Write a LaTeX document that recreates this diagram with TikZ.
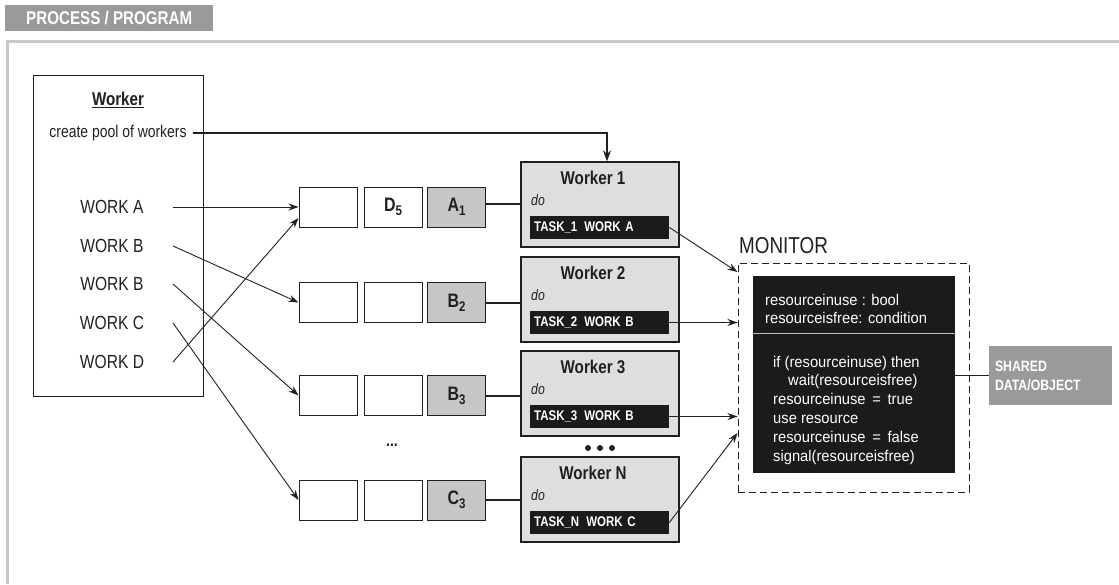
\documentclass[tikz,border=0pt]{standalone}
\usepackage{fontspec}
\setmainfont{Liberation Sans}[FakeStretch=0.82]
\newfontfamily\monfont{Liberation Sans}[FakeStretch=0.95]
\usetikzlibrary{arrows.meta}
\definecolor{bannergray}{HTML}{9A9A9A}
\definecolor{framegray}{HTML}{C8C8C8}
\definecolor{wgray}{HTML}{DEDEDE}
\definecolor{qgray}{HTML}{C6C6C6}
\definecolor{barblack}{HTML}{1C1A1A}
\definecolor{ink}{HTML}{231F20}
\newcommand\qsub[2]{#1\raisebox{-4pt}{\fontsize{14}{14}\selectfont #2}}
\begin{document}
\begin{tikzpicture}[x=1pt,y=-1pt,
  lbl/.style={inner sep=0pt, text=ink, font=\fontsize{19}{22}\selectfont},
  qbox/.style={draw=ink, line width=1pt, minimum width=58pt, minimum height=40pt, inner sep=0pt, text=ink, font=\bfseries\fontsize{19.5}{22}\selectfont},
  qfill/.style={qbox, fill=qgray},
  wbox/.style={draw=ink, line width=1.2pt, fill=wgray, minimum width=158pt, minimum height=85pt, inner sep=0pt},
  wtitle/.style={inner sep=0pt, text=ink, font=\bfseries\fontsize{18.5}{21}\selectfont},
  dolbl/.style={inner sep=0pt, text=ink, font=\itshape\fontsize{15}{18}\selectfont},
  tbar/.style={fill=barblack, text=white, minimum height=23pt, inner xsep=4pt, inner ysep=0pt, text width=131pt, align=left, font=\bfseries\fontsize{14}{16}\selectfont},
  arr/.style={-{Stealth[length=10pt,width=7pt]}, line width=0.9pt, draw=ink},
  link/.style={line width=2pt, draw=ink},
  montext/.style={inner sep=0pt, text=white, align=left, font=\monfont\fontsize{15.5}{18.8}\selectfont}
]
\useasboundingbox (0,0) rectangle (1119,584);

% banner and frame
\fill[bannergray] (5,5) rectangle (213,31);
\node[anchor=west, inner sep=0pt, text=white, font=\bfseries\fontsize{18.5}{21}\selectfont] (banner) at (26,18) {PROCESS / PROGRAM};
\draw[framegray, line width=2.8pt] (7.8,584) -- (7.8,41.3) -- (1119,41.3);

% left worker box
\node[draw=ink, line width=1pt, minimum width=170pt, minimum height=321pt, inner sep=0pt] (wk) at (118,235.5) {};
\node[inner sep=0pt, text=ink, font=\bfseries\fontsize{18.5}{21}\selectfont] (wkt) at (118,100) {\underline{Worker}};
\node[inner sep=0pt, text=ink, font=\fontsize{17}{20}\selectfont] (cp) at (118,133) {create pool of workers};
\node[lbl] (wa) at (112,207) {WORK A};
\node[lbl] (wb1) at (112,246) {WORK B};
\node[lbl] (wb2) at (112,284) {WORK B};
\node[lbl] (wc) at (112,323) {WORK C};
\node[lbl] (wd) at (112,362) {WORK D};
\coordinate (xs) at (173,0);

% queues
\node[qbox] (qa1) at (328,207) {};
\node[qbox] (qa2) at (393,207) {\qsub{D}{5}};
\node[qfill] (qa3) at (456.5,207) {\qsub{A}{1}};
\node[qbox] (qb1) at (328,302.5) {};
\node[qbox] (qb2) at (393,302.5) {};
\node[qfill] (qb3) at (456.5,302.5) {\qsub{B}{2}};
\node[qbox] (qc1) at (328,395.5) {};
\node[qbox] (qc2) at (393,395.5) {};
\node[qfill] (qc3) at (456.5,395.5) {\qsub{B}{3}};
\node[qbox] (qd1) at (328,500) {};
\node[qbox] (qd2) at (393,500) {};
\node[qfill] (qd3) at (456.5,500) {\qsub{C}{3}};
\node[inner sep=0pt, text=ink, font=\bfseries\fontsize{17}{20}\selectfont] (qdots) at (392,445) {...};

% workers
\foreach \n/\T/\lab/\tsk in {1/162/Worker 1/TASK\_1\enspace WORK A, 2/257/Worker 2/TASK\_2\enspace WORK B, 3/351/Worker 3/TASK\_3\enspace WORK B, N/457/Worker N/TASK\_N\enspace WORK C}{
  \node[wbox] (w\n) at (600,\T+42.5) {};
  \node[wtitle] (wt\n) at (593,\T+16) {\lab};
  \node[dolbl, anchor=west] (do\n) at (531,\T+38) {do};
  \node[tbar, anchor=west] (t\n) at (530,\T+65.5) {\tsk};
}
\fill[ink] (588,448) circle (3pt) (600,448) circle (3pt) (612,448) circle (3pt);

% monitor
\node[draw=ink, line width=1pt, dash pattern=on 7pt off 4pt, minimum width=231pt, minimum height=229pt, inner sep=0pt] (mon) at (853.5,377.5) {};
\node[anchor=west, inner sep=0pt, text=ink, font=\fontsize{23}{26}\selectfont] (monl) at (739,245.5) {MONITOR};
\node[fill=barblack, minimum width=202pt, minimum height=57pt, inner sep=0pt] (mtop) at (854,304.5) {};
\node[fill=barblack, minimum width=202pt, minimum height=140pt, inner sep=0pt] (mbot) at (854,403) {};
\draw[white!75!black, line width=1pt] (mtop.south west) -- (mtop.south east);
\node[montext, anchor=west] (mtt) at (765,309) {resourceinuse : bool\\resourceisfree: condition};
\node[montext, anchor=west] (mbt) at (773,410) {if (resourceinuse) then\\\hspace*{15pt}wait(resourceisfree)\\resourceinuse \,=\, true\\use resource\\resourceinuse \,=\, false\\signal(resourceisfree)};

% shared data
\node[fill=bannergray, minimum width=123pt, minimum height=59pt, inner xsep=6pt, inner ysep=0pt, text width=111pt, align=left, text=white, font=\bfseries\fontsize{15}{19}\selectfont] (sd) at (1050.5,375.5) {SHARED\\DATA/OBJECT};
\draw[line width=1pt, ink] (mbot.east |- sd.west) -- (sd.west);

% connectors
\draw[arr] (wa -| xs) -- (qa1.west);
\draw[arr] (wb1 -| xs) -- (qb1.west);
\draw[arr] (wb2 -| xs) -- (qc1.west);
\draw[arr] (wc -| xs) -- (qd1.west);
\draw[arr] (wd -| xs) -- ([yshift=-11pt]qa1.west);

\coordinate (pk) at (607,0);
\draw[link, -{Stealth[length=11pt,width=8pt]}] ([xshift=6pt]cp.east) -- (cp.east -| pk) -- (pk |- w1.north);

\draw[link] ([yshift=3pt]qa3.east) -- ([yshift=3pt]qa3.east -| w1.west);
\draw[link] (qb3.east) -- (qb3.east -| w2.west);
\draw[link] (qc3.east) -- (qc3.east -| w3.west);
\draw[link] (qd3.east) -- (qd3.east -| wN.west);

\coordinate (ya) at (0,272);
\coordinate (yn) at (0,433);
\draw[arr] (t1.east) -- (mon.west |- ya);
\draw[arr] (t2.east) -- (t2.east -| mon.west);
\draw[arr] (t3.east) -- (t3.east -| mon.west);
\draw[arr] (tN.east) -- (mon.west |- yn);
\end{tikzpicture}
\end{document}
